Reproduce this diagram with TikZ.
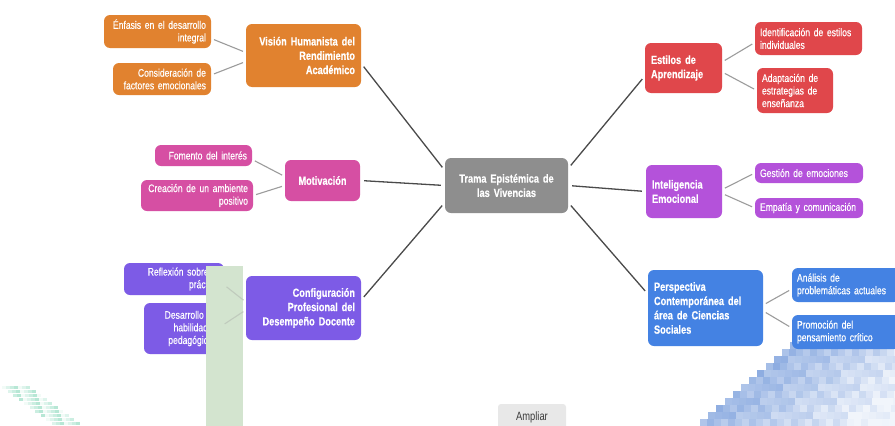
\documentclass[tikz,border=0pt]{standalone}
\usepackage{fontspec}
\setmainfont{Liberation Sans}
\newfontfamily\headfont{Liberation Sans Bold}[FakeStretch=0.78,FakeBold=0.4]
\newfontfamily\leaffont{Liberation Sans}[FakeStretch=0.78,FakeBold=0.35]
\newfontfamily\btnfont{Liberation Sans}[FakeStretch=0.78]
\definecolor{cOrange}{HTML}{E1822F}
\definecolor{cPink}{HTML}{D64FA3}
\definecolor{cPurple}{HTML}{7D5BE6}
\definecolor{cRed}{HTML}{E0474B}
\definecolor{cViolet}{HTML}{B452DA}
\definecolor{cBlue}{HTML}{4482E3}
\definecolor{cGray}{HTML}{8E8E8E}
\definecolor{trunkgray}{HTML}{4A4A4A}
\definecolor{twiggray}{HTML}{9C9C9C}
\definecolor{greenbar}{HTML}{D3E4CF}
\definecolor{mosaicblue}{HTML}{4F7FD0}
\definecolor{mosaicgreen}{HTML}{5CC9A0}
\definecolor{btnfill}{HTML}{E8E8E8}
\definecolor{btntext}{HTML}{3A3A3A}
\begin{document}
\hyphenpenalty=10000
\exhyphenpenalty=10000
\begin{tikzpicture}[x=1pt,y=-1pt,
  box/.style={rounded corners=6pt, inner ysep=0pt, text=white},
  mainbox/.style={box, inner xsep=6pt, font=\headfont\fontsize{11.8}{14.3}\selectfont},
  subbox/.style={box, inner xsep=5pt, font=\leaffont\fontsize{11}{12.6}\selectfont},
  trunk/.style={draw=trunkgray, line width=1.3pt, shorten <=4pt, shorten >=4pt},
  twig/.style={draw=twiggray, line width=1.1pt, shorten <=3pt, shorten >=3pt},
  faintwig/.style={draw=twiggray!35!greenbar, line width=1.1pt, shorten <=3pt, shorten >=3pt}]
\useasboundingbox (0,0) rectangle (895,426);
\fill[white] (0,0) rectangle (895,426);
\clip (0,0) rectangle (895,426);

% pixel mosaic, lower right
\foreach \j in {0,...,11}{
  \pgfmathsetmacro\xs{700+\j*8.2}
  \foreach \i in {0,...,29}{
    \pgfmathsetmacro\xx{\xs+\i*7}
    \pgfmathtruncatemacro\v{max(8,45-\i*2+mod(\i*37+\j*53+\i*\j*11,22))}
    \fill[mosaicblue!\v!white] (\xx,{426-(\j+1)*7}) rectangle ++(7,7);
  }
}
% pixel mosaic, lower left
\foreach \j in {0,...,9}{
  \foreach \i in {0,...,6}{
    \pgfmathsetmacro\xx{2+5.5*\j+4*\i}
    \pgfmathtruncatemacro\v{mod(\i*29+\j*17,4)*12+8}
    \fill[mosaicgreen!\v!white] (\xx,{386+4*\j}) rectangle ++(4,3);
  }
}

% central topic
\node[mainbox, fill=cGray, text width=111pt, minimum height=55pt, align=center] (central) at (506.5,185.5) {Trama Epistémica de\\las Vivencias};

% left branches
\node[mainbox, fill=cOrange, text width=103pt, minimum height=63pt, align=right] (vision) at (303.5,55.5) {Visión Humanista del\\Rendimiento\\Académico};
\node[subbox, fill=cOrange, text width=97pt, minimum height=33pt, align=right] (enfasis) at (157.5,31.5) {Énfasis en el desarrollo\\integral};
\node[subbox, fill=cOrange, text width=88pt, minimum height=32pt, align=right] (consid) at (162,79) {Consideración de\\factores emocionales};

\node[mainbox, fill=cPink, text width=63pt, minimum height=41pt, align=center] (motiv) at (322.5,180.5) {Motivación};
\node[subbox, fill=cPink, text width=87pt, minimum height=21pt, align=right] (fomento) at (203.5,155.5) {Fomento del interés};
\node[subbox, fill=cPink, text width=102pt, minimum height=31pt, align=right] (creacion) at (197,195.5) {Creación de un ambiente\\positivo};

\node[mainbox, fill=cPurple, text width=103pt, minimum height=64pt, align=right] (config) at (303.5,308) {Configuración\\Profesional del\\Desempeño Docente};
\node[subbox, fill=cPurple, text width=90pt, minimum height=32pt, align=right] (reflexion) at (174,279) {Reflexión sobre la\\práctica};
\node[subbox, fill=cPurple, text width=68pt, minimum height=51pt, align=right] (desarrollo) at (183,328.5) {Desarrollo de\\habilidades\\pedagógicas};

% right branches
\node[mainbox, fill=cRed, text width=65pt, minimum height=50pt, align=left] (estilos) at (683.5,68) {Estilos de\\Aprendizaje};
\node[subbox, fill=cRed, text width=97pt, minimum height=33pt, align=left] (ident) at (808.5,38.5) {Identificación de estilos\\individuales};
\node[subbox, fill=cRed, text width=66pt, minimum height=45pt, align=left] (adapt) at (795,90.5) {Adaptación de\\estrategias de\\enseñanza};

\node[mainbox, fill=cViolet, text width=64pt, minimum height=53pt, align=left] (intel) at (684,191.5) {Inteligencia\\Emocional};
\node[subbox, fill=cViolet, text width=98pt, minimum height=20pt, align=left] (gestion) at (809,173) {Gestión de emociones};
\node[subbox, fill=cViolet, text width=98pt, minimum height=20pt, align=left] (empatia) at (809,208) {Empatía y comunicación};

\node[mainbox, fill=cBlue, text width=103pt, minimum height=76pt, align=left] (persp) at (705.5,308) {Perspectiva\\Contemporánea del\\área de Ciencias\\Sociales};
\node[subbox, fill=cBlue, text width=98pt, minimum height=34pt, align=left] (analisis) at (846,285) {Análisis de\\problemáticas actuales};
\node[subbox, fill=cBlue, text width=98pt, minimum height=34pt, align=left] (promocion) at (846,332) {Promoción del\\pensamiento crítico};

% main connectors
\draw[trunk] ([yshift=-8pt]vision.east) -- ([yshift=15pt]central.west);
\draw[trunk] (motiv.east) -- (central.west);
\draw[trunk] ([yshift=8pt]config.east) -- ([yshift=-17pt]central.west);
\draw[trunk] ([yshift=17pt]central.east) -- ([yshift=-8pt]estilos.west);
\draw[trunk] (central.east) -- (intel.west);
\draw[trunk] ([yshift=-17pt]central.east) -- ([yshift=14pt]persp.west);

% sub connectors
\draw[twig] ([yshift=-7pt]enfasis.east) -- ([yshift=3pt]vision.west);
\draw[twig] ([yshift=4pt]consid.east) -- ([yshift=-6pt]vision.west);
\draw[twig] ([yshift=-4pt]fomento.east) -- ([yshift=4pt]motiv.west);
\draw[twig] (creacion.east) -- ([yshift=-5pt]motiv.west);
\draw[twig] ([yshift=6pt]estilos.east) -- ([yshift=-4pt]ident.west);
\draw[twig] ([yshift=-4pt]estilos.east) -- (adapt.west);
\draw[twig] ([yshift=2pt]intel.east) -- (gestion.west);
\draw[twig] ([yshift=-2pt]intel.east) -- (empatia.west);
\draw[twig] ([yshift=3pt]persp.east) -- ([yshift=-4pt]analisis.west);
\draw[twig] ([yshift=-3pt]persp.east) -- ([yshift=4pt]promocion.west);

% green bar over the lower left branch
\fill[greenbar] (206,266) rectangle (243,428);
\draw[faintwig] ([yshift=-6pt]reflexion.east) -- ([yshift=6pt]config.west);
\draw[faintwig] ([yshift=3pt]desarrollo.east) -- ([yshift=-2pt]config.west);

% button
\node[fill=btnfill, rounded corners=3pt, minimum width=68pt, minimum height=26pt, inner sep=0pt, text=btntext, font=\btnfont\fontsize{12}{13}\selectfont] (ampliar) at (532,417) {Ampliar};
\end{tikzpicture}
\end{document}
